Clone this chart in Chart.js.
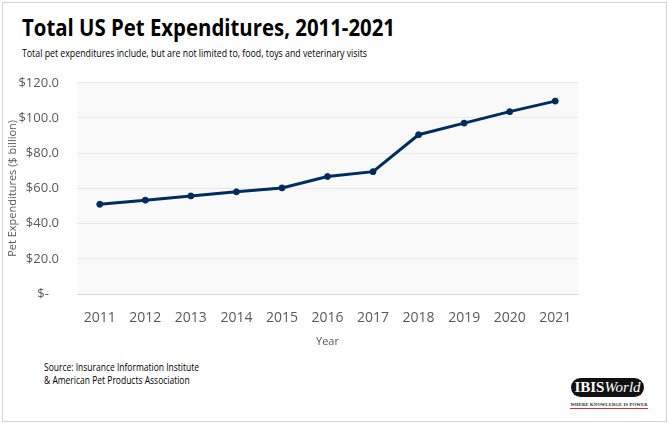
<!DOCTYPE html>
<html>
<head>
  <title>Total US Pet Expenditures</title>
  <script src="https://cdn.jsdelivr.net/npm/chart.js"></script>
  <style>
    body { margin: 0; width: 668px; height: 423px; background: #fff; font-family: 'Open Sans', sans-serif; position: relative; overflow: hidden; }
    .frame { position: absolute; left: 2px; top: 2px; width: 663px; height: 418px; border: 1px solid #d4d4d4; }
    .fit { position: absolute; margin: 0; white-space: nowrap; transform-origin: 0 0; }
    h1 { left: 22px; top: 12px; font-size: 24px; line-height: 30px; font-weight: 700; color: #000; }
    .sub { left: 22px; top: 46px; font-size: 11px; line-height: 14px; color: #000; }
    .src { left: 44px; top: 361px; font-size: 10px; line-height: 13px; color: #000; }
    #wrap { position: absolute; left: 0; top: 57px; width: 600px; height: 295px; }
    .logo { position: absolute; left: 571px; top: 378px; width: 73px; height: 19px; background: #111; border-radius: 10px; color: #fff; font-family: 'Liberation Serif', serif; font-size: 15px; line-height: 19px; text-align: center; }
    .logo i { font-weight: normal; }
    .tag { position: absolute; left: 570px; top: 402px; width: 78px; font-family: 'Liberation Serif', serif; font-size: 4.5px; font-weight: 700; text-align: center; color: #222; border-bottom: 1px solid #c0392b; line-height: 6px; letter-spacing: 0.2px; }
  </style>
</head>
<body>
  <div class="frame"></div>
  <h1 class="fit" data-w="373">Total US Pet Expenditures, 2011-2021</h1>
  <div class="fit sub" data-w="345">Total pet expenditures include, but are not limited to, food, toys and veterinary visits</div>
  <div id="wrap"><canvas id="petChart"></canvas></div>
  <div class="fit src" data-w="155">Source: Insurance Information Institute<br>&amp; American Pet Products Association</div>
  <div class="logo"><b>IBIS</b><i>World</i></div>
  <div class="tag">WHERE KNOWLEDGE IS POWER</div>

  <script>
    const years = ['2011', '2012', '2013', '2014', '2015', '2016', '2017', '2018', '2019', '2020', '2021'];
    const spending = [50.96, 53.33, 55.72, 58.04, 60.28, 66.75, 69.51, 90.5, 97.1, 103.6, 109.6];
    const yTicks = [0, 20, 40, 60, 80, 100, 120];

    // squeeze the text blocks to the widths measured on the reference
    document.querySelectorAll('.fit').forEach(el => {
      const w = el.getBoundingClientRect().width;
      el.style.transform = 'scaleX(' + (el.dataset.w / w) + ')';
    });

    const plotBg = {
      id: 'plotBg',
      beforeDraw(chart) {
        const { ctx, chartArea: a } = chart;
        ctx.save();
        ctx.fillStyle = '#f9f9f9';
        ctx.fillRect(a.left, a.top, a.right - a.left, a.bottom - a.top);
        ctx.restore();
      }
    };

    new Chart(document.getElementById('petChart'), {
      type: 'line',
      data: {
        labels: years,
        datasets: [{
          label: 'Pet Expenditures',
          data: spending,
          borderColor: '#002c5f',
          backgroundColor: '#002c5f',
          borderWidth: 3,
          pointRadius: 3,
          pointBorderWidth: 1,
          pointHoverRadius: 3,
          tension: 0,
          fill: false
        }]
      },
      options: {
        animation: false,
        responsive: true,
        maintainAspectRatio: false,
        layout: { padding: { top: 4, right: 22 } },
        plugins: { legend: { display: false }, tooltip: { enabled: false } },
        scales: {
          x: {
            offset: true,
            afterFit(scale) { scale.height = 58; },
            grid: { display: false, drawTicks: false },
            border: { color: '#d9d9d9', width: 1 },
            ticks: { color: '#595959', font: { family: 'Open Sans', size: 14 }, padding: 16, maxRotation: 0 },
            title: { display: true, text: 'Year', color: '#595959', font: { family: 'Open Sans', size: 11 }, padding: { top: 2, bottom: 4 } }
          },
          y: {
            min: 0,
            max: 120,
            afterFit(scale) { scale.width = 77; },
            afterBuildTicks(scale) { scale.ticks = yTicks.map(v => ({ value: v })); },
            grid: { color: '#e8e8e8', drawTicks: false },
            border: { display: false },
            ticks: {
              color: '#595959',
              font: { family: 'Open Sans', size: 13 },
              padding: 18,
              callback: v => v === 0 ? '$-   ' : '$' + v.toFixed(1)
            },
            title: { display: true, text: 'Pet Expenditures ($ billion)', color: '#595959', font: { family: 'Open Sans', size: 11 }, padding: { top: 6, bottom: 0 } }
          }
        }
      },
      plugins: [plotBg]
    });
  </script>
</body>
</html>
